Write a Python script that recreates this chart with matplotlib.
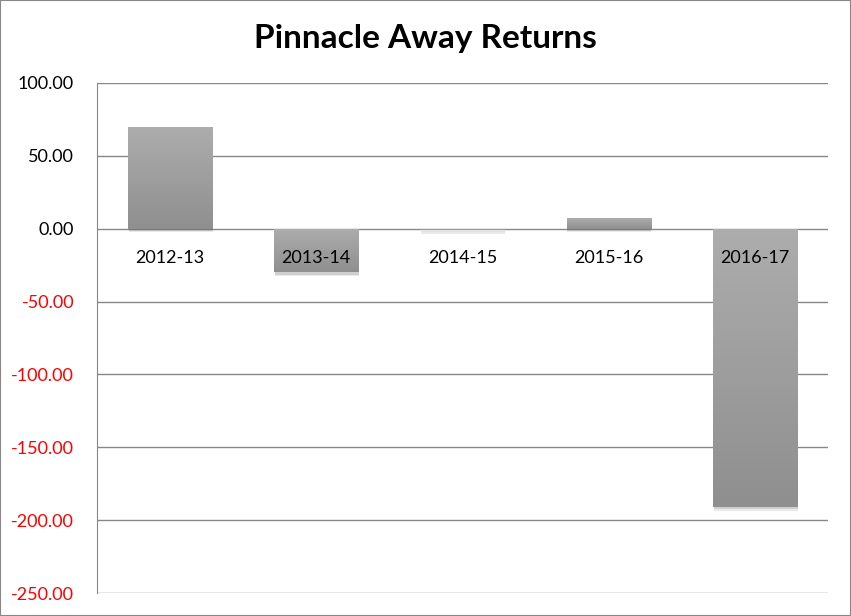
import numpy as np
import matplotlib
matplotlib.use("Agg")
import matplotlib.pyplot as plt
import matplotlib.patheffects as pe
from matplotlib.colors import LinearSegmentedColormap
from matplotlib.patches import Rectangle

seasons = ["2012-13", "2013-14", "2014-15", "2015-16", "2016-17"]
returns = [70.0, -30.0, -1.0, 7.5, -191.0]
yticks = [100, 50, 0, -50, -100, -150, -200, -250]

plt.rcParams['font.family'] = ['Lato', 'DejaVu Sans']

fig = plt.figure(figsize=(8.51, 6.16), dpi=100)
ax = fig.add_axes([0.114, 0.0373, 0.859, 0.828])

x = np.arange(len(seasons))
shadow = [pe.SimplePatchShadow(offset=(0.5, -2.5), alpha=0.12, shadow_rgbFace="#555555"),
          pe.SimplePatchShadow(offset=(0.5, -1.5), alpha=0.18, shadow_rgbFace="#555555"),
          pe.Normal()]
bars = ax.bar(x, returns, width=0.575, color="#9e9e9e", zorder=2, path_effects=shadow)

# gradient fill, light at top, darker at bottom
cmap = LinearSegmentedColormap.from_list("g", ["#8f8f8f", "#adadad"])
grad = np.linspace(0, 1, 256).reshape(-1, 1)
for b in bars:
    x0, y0 = b.get_x(), b.get_y()
    w, h = b.get_width(), b.get_height()
    lo, hi = min(y0, y0 + h), max(y0, y0 + h)
    im = ax.imshow(grad, extent=[x0, x0 + w, lo, hi], origin="lower",
                   aspect="auto", cmap=cmap, zorder=2.1)
    im.set_clip_path(b)

ax.set_xlim(-0.5, len(seasons) - 0.5)
ax.set_ylim(-250, 100)

ax.spines["bottom"].set_position(("data", 0))
ax.spines["bottom"].set_visible(False)
for s in ["top", "right"]:
    ax.spines[s].set_visible(False)
ax.spines["left"].set_color("#888888")

ax.yaxis.grid(True, color="#888888", linewidth=1)
ax.set_axisbelow(True)
ax.xaxis.set_zorder(5)

ax.set_yticks(yticks)
ax.set_yticklabels(["%.2f" % v for v in yticks], fontsize=13)
for lab, v in zip(ax.get_yticklabels(), yticks):
    lab.set_color("red" if v < 0 else "black")
ax.set_xticks(x)
ax.set_xticklabels(seasons, fontsize=13)
ax.tick_params(axis="x", length=0, pad=15)
ax.tick_params(axis="y", length=0, pad=16.5)

fig.text(0.5, 0.938, "Pinnacle Away Returns", ha="center", va="center",
         fontsize=24, fontweight="bold")
fig.patches.append(Rectangle((0, 0), 1, 1, transform=fig.transFigure,
                             fill=False, edgecolor="#888888", linewidth=1.5))

fig.savefig("out.png", dpi=100)
